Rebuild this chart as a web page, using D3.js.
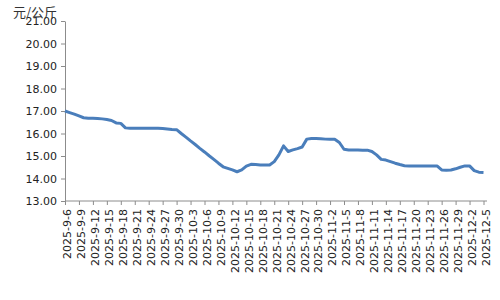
<!DOCTYPE html>
<html>
<head>
<meta charset="utf-8">
<script src="https://cdn.jsdelivr.net/npm/d3@7"></script>
<style>
  body { margin: 0; background: #fff; }
  svg { display: block; }
</style>
</head>
<body>
<div class="chart"></div>
<script>
// daily price, 2025-9-6 .. 2025-12-5 (元/公斤)
const startDate = "2025-09-06";
const prices = [
  17.00, 16.93, 16.86, 16.78, 16.70, 16.68, 16.68, 16.67, 16.65, 16.62,
  16.58, 16.47, 16.45, 16.25, 16.23, 16.23, 16.23, 16.23, 16.23, 16.23,
  16.23, 16.22, 16.20, 16.18, 16.17, 16.00, 15.84, 15.67, 15.51, 15.34,
  15.18, 15.01, 14.85, 14.68, 14.52, 14.45, 14.38, 14.30, 14.38, 14.55,
  14.63, 14.62, 14.60, 14.60, 14.60, 14.75, 15.05, 15.45, 15.20, 15.27,
  15.33, 15.40, 15.75, 15.78, 15.78, 15.77, 15.75, 15.74, 15.74, 15.60,
  15.30, 15.27, 15.27, 15.27, 15.26, 15.26, 15.20, 15.05, 14.85, 14.82,
  14.75, 14.68, 14.62, 14.57, 14.56, 14.56, 14.56, 14.56, 14.56, 14.56,
  14.56, 14.38, 14.37, 14.38, 14.43, 14.50, 14.56, 14.56, 14.35, 14.28,
  14.27
];
const yTicks = [13, 14, 15, 16, 17, 18, 19, 20, 21];
const yTitle = "元/公斤";
const labelEvery = 3; // days between x labels

const W = 500, H = 300;
const Margin = {top: 21, right: 16.5, bottom: 99, left: 65};

const parseDate = d3.timeParse("%Y-%m-%d");
const dateFmt = d3.timeFormat("%Y-%-m-%-d");
const day0 = parseDate(startDate);
const data = prices.map((v, i) => ({date: d3.timeDay.offset(day0, i), value: v}));

const svg = d3.select(".chart").append("svg")
    .attr("width", W)
    .attr("height", H);

const x = d3.scaleTime()
    .domain(d3.extent(data, d => d.date))
    .range([Margin.left, W - Margin.right]);
const y = d3.scaleLinear()
    .domain([13, 21])
    .range([H - Margin.bottom, Margin.top]);

const axisColor = "#8c8c8c";
const font = "'DejaVu Sans', Verdana, sans-serif";

// Y axis
const yAxis = svg.append("g")
    .attr("transform", "translate(" + Margin.left + ",0)")
    .call(d3.axisLeft(y).tickValues(yTicks).tickFormat(d3.format(".2f")).tickSize(4).tickSizeOuter(0));
yAxis.select(".domain").attr("stroke", axisColor);
yAxis.selectAll(".tick line").attr("stroke", axisColor);
yAxis.selectAll("text")
    .attr("x", -8)
    .style("font-family", font)
    .style("font-size", "11px")
    .attr("fill", "#222");

// X axis
const xTickDates = data.filter((d, i) => i % labelEvery === 0).map(d => d.date);
const xAxis = svg.append("g")
    .attr("transform", "translate(0," + (H - Margin.bottom) + ")")
    .call(d3.axisBottom(x).tickValues(xTickDates).tickFormat(dateFmt).tickSize(4).tickSizeOuter(0));
xAxis.select(".domain").remove();
xAxis.append("line")
    .attr("x1", Margin.left).attr("x2", W - 13)
    .attr("stroke", axisColor);
xAxis.selectAll(".tick line").attr("stroke", axisColor);
xAxis.selectAll("text")
    .style("font-family", font)
    .style("font-size", "11px")
    .attr("fill", "#222")
    .style("text-anchor", "end")
    .attr("x", -8)
    .attr("y", 2)
    .attr("dy", ".35em")
    .attr("transform", "rotate(-90)");

// Y title
svg.append("text")
    .attr("x", 13)
    .attr("y", 17)
    .style("font-family", "'Noto Sans CJK SC', sans-serif")
    .style("font-size", "13px")
    .attr("fill", "#333")
    .text(yTitle);

// Line
const line = d3.line()
    .x(d => x(d.date))
    .y(d => y(d.value));

svg.append("path")
    .datum(data)
    .attr("fill", "none")
    .attr("stroke", "#4a7ebb")
    .attr("stroke-width", 3)
    .attr("stroke-linejoin", "round")
    .attr("d", line);
</script>
</body>
</html>
